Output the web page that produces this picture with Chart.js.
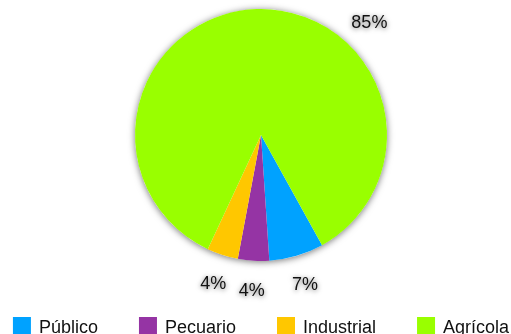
<!DOCTYPE html>
<html>
<head>
<meta charset="utf-8">
<script src="https://cdn.jsdelivr.net/npm/chart.js@4"></script>
<style>
    body { margin: 0; background: #fff; }
    canvas { display: block; }
</style>
</head>
<body>
<canvas id="uso_agua_chart" width="511" height="334"></canvas>
<script>
var labels = ['Público', 'Pecuario', 'Industrial', 'Agrícola']
var values = [7, 4, 4, 85]
var colors = ['#00a2ff', '#9534a4', '#ffc700', '#99ff00']

var fontFamily = '"Liberation Sans", Arial, Helvetica, sans-serif'

// white disc with a soft shadow behind the slices
var pieShadow = {
    id: 'pieShadow',
    beforeDatasetsDraw: function (chart) {
        var arc = chart.getDatasetMeta(0).data[0]
        if (!arc) return
        var ctx = chart.ctx
        ctx.save()
        ctx.shadowColor = 'rgba(0, 0, 0, 0.55)'
        ctx.shadowBlur = 7
        ctx.shadowOffsetY = 1
        ctx.fillStyle = '#ffffff'
        ctx.beginPath()
        ctx.arc(arc.x, arc.y, arc.outerRadius, 0, Math.PI * 2)
        ctx.fill()
        ctx.restore()
    }
}

// percentage labels outside the pie
var pctLabels = {
    id: 'pctLabels',
    afterDatasetsDraw: function (chart, args, opts) {
        var ctx = chart.ctx
        var meta = chart.getDatasetMeta(0)
        ctx.save()
        ctx.font = opts.size + 'px ' + fontFamily
        ctx.textAlign = 'center'
        ctx.textBaseline = 'middle'
        ctx.fillStyle = '#111111'
        ctx.shadowColor = 'rgba(0, 0, 0, 0.6)'
        ctx.shadowBlur = 5
        ctx.shadowOffsetY = 1
        meta.data.forEach(function (arc, i) {
            var ang = (arc.startAngle + arc.endAngle) / 2
            if (opts.angles[i] !== undefined) {
                ang = (opts.angles[i] - 90) * Math.PI / 180
            }
            var x = arc.x + Math.cos(ang) * opts.distance
            var y = arc.y + Math.sin(ang) * opts.distance
            ctx.fillText(chart.data.datasets[0].data[i] + '%', x, y)
        })
        ctx.restore()
    }
}

// legend row along the bottom edge
var bottomLegend = {
    id: 'bottomLegend',
    afterDraw: function (chart, args, opts) {
        var ctx = chart.ctx
        var arc = chart.getDatasetMeta(0).data[0]
        ctx.save()
        ctx.font = opts.size + 'px ' + fontFamily
        ctx.textBaseline = 'alphabetic'
        var widths = chart.data.labels.map(function (l) {
            return opts.box + opts.boxGap + ctx.measureText(l).width
        })
        var total = widths.reduce(function (a, b) { return a + b }, 0) + opts.gap * (widths.length - 1)
        var x = arc.x - total / 2
        chart.data.labels.forEach(function (l, i) {
            ctx.fillStyle = chart.data.datasets[0].backgroundColor[i]
            ctx.fillRect(x, opts.top, opts.box, opts.box)
            ctx.fillStyle = '#111111'
            ctx.fillText(l, x + opts.box + opts.boxGap, opts.baseline)
            x += widths[i] + opts.gap
        })
        ctx.restore()
    }
}

var ctx = document.getElementById('uso_agua_chart').getContext('2d')
var myChart = new Chart(ctx, {
    type: 'pie',
    data: {
        labels: labels,
        datasets: [{
            data: values,
            backgroundColor: colors,
            borderWidth: 0
        }]
    },
    options: {
        responsive: false,
        animation: false,
        rotation: 151,
        layout: {
            padding: { top: 9, bottom: 73, left: 11, right: 0 }
        },
        plugins: {
            legend: { display: false },
            tooltip: { enabled: false },
            pctLabels: { size: 18, distance: 156, angles: { 3: 44 } },
            bottomLegend: { size: 18, box: 18, boxGap: 8, gap: 41, top: 317, baseline: 333 }
        }
    },
    plugins: [pieShadow, pctLabels, bottomLegend]
})
</script>
</body>
</html>
